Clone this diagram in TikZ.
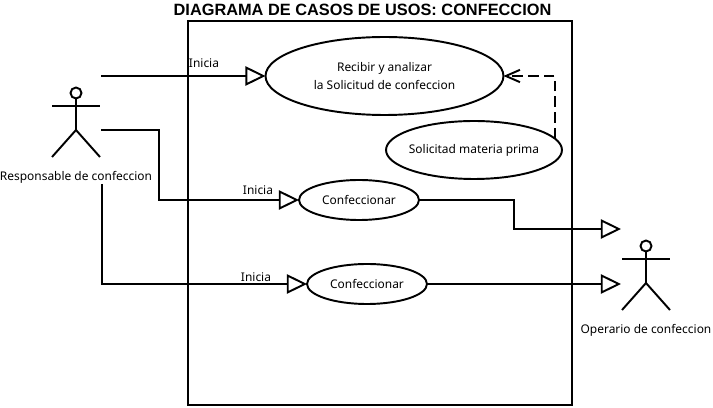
\documentclass[tikz,border=0pt]{standalone}
\usepackage{xcolor}
\usepackage{fontspec}
\setmainfont{Noto Sans}
\newfontfamily\titlefont{Liberation Sans}
\usetikzlibrary{arrows.meta, positioning, shapes.geometric}

\begin{document}
\begin{tikzpicture}[
    x=0.02cm, y=-0.02cm,
    usecase/.style={draw=black, ellipse, line width=1.1pt, inner sep=0pt, outer sep=0pt,
                    align=center, font=\fontsize{6.8pt}{9.8pt}\selectfont},
    lbl/.style={font=\fontsize{6.8pt}{8pt}\selectfont, inner sep=0pt},
    arr/.style={-{Triangle[open, length=11.5pt, width=11pt, line width=1.1pt]}, line width=1.1pt},
    actor/.pic={
        \draw[line width=1.1pt] (0,-13) circle (5.5);
        \draw[line width=1.1pt] (-24,0) -- (24,0);
        \draw[line width=1.1pt] (0,-7.5) -- (0,24) -- (-24,51);
        \draw[line width=1.1pt] (0,24) -- (24,51);
    },
]
    \useasboundingbox (0,0) rectangle (713,408);

    % frame and title
    \node[draw, line width=1.1pt, minimum width=7.68cm, minimum height=7.68cm, inner sep=0pt] (sistema) at (380,213) {};
    \node[font=\titlefont\fontsize{9.3pt}{11pt}\selectfont\bfseries, inner sep=0pt] (titulo) at (362.5,10) {DIAGRAMA DE CASOS DE USOS: CONFECCION};

    % actors
    \pic at (76,106) {actor};
    \node[lbl] (responsable) at (76,177) {Responsable de confeccion};
    \pic at (646,259) {actor};
    \node[lbl] (operario) at (646,330) {Operario de confeccion};

    % use cases
    \node[usecase, minimum width=4.76cm, minimum height=1.56cm] (recibir) at (384.5,76) {Recibir y analizar\\la Solicitud de confeccion};
    \node[usecase, inner xsep=-5pt, minimum width=3.52cm, minimum height=1.16cm] (solicitud) at (474,150) {Solicitad materia prima};
    \node[usecase, minimum width=2.4cm, minimum height=0.8cm] (conf1) at (359,200) {Confeccionar};
    \node[usecase, minimum width=2.4cm, minimum height=0.8cm] (conf2) at (367,284) {Confeccionar};

    % free ends at the actors
    \coordinate (r1) at (101,76);
    \coordinate (r2) at (101,130);
    \coordinate (r3) at (102,184);
    \coordinate (o1) at (621,229);
    \coordinate (o2) at (621,284);

    % Inicia
    \draw[arr] (r1) -- (recibir.west);
    \node[lbl] (ini1) at (204,63) {Inicia};
    \draw[arr] (r2) -- (159,130) |- (conf1.west);
    \node[lbl] (ini2) at (258,190) {Inicia};
    \draw[arr] (r3) |- (conf2.west);
    \node[lbl] (ini3) at (256,277) {Inicia};

    % operario
    \draw[arr] (conf1.east) -- (514,200) |- (o1);
    \draw[arr] (conf2.east) -- (o2);

    % materia prima
    \draw[line width=1.1pt, dash pattern=on 6pt off 3pt, -{Straight Barb[length=8pt, width=7pt]}] (solicitud.8) |- (recibir.east);
\end{tikzpicture}
\end{document}
